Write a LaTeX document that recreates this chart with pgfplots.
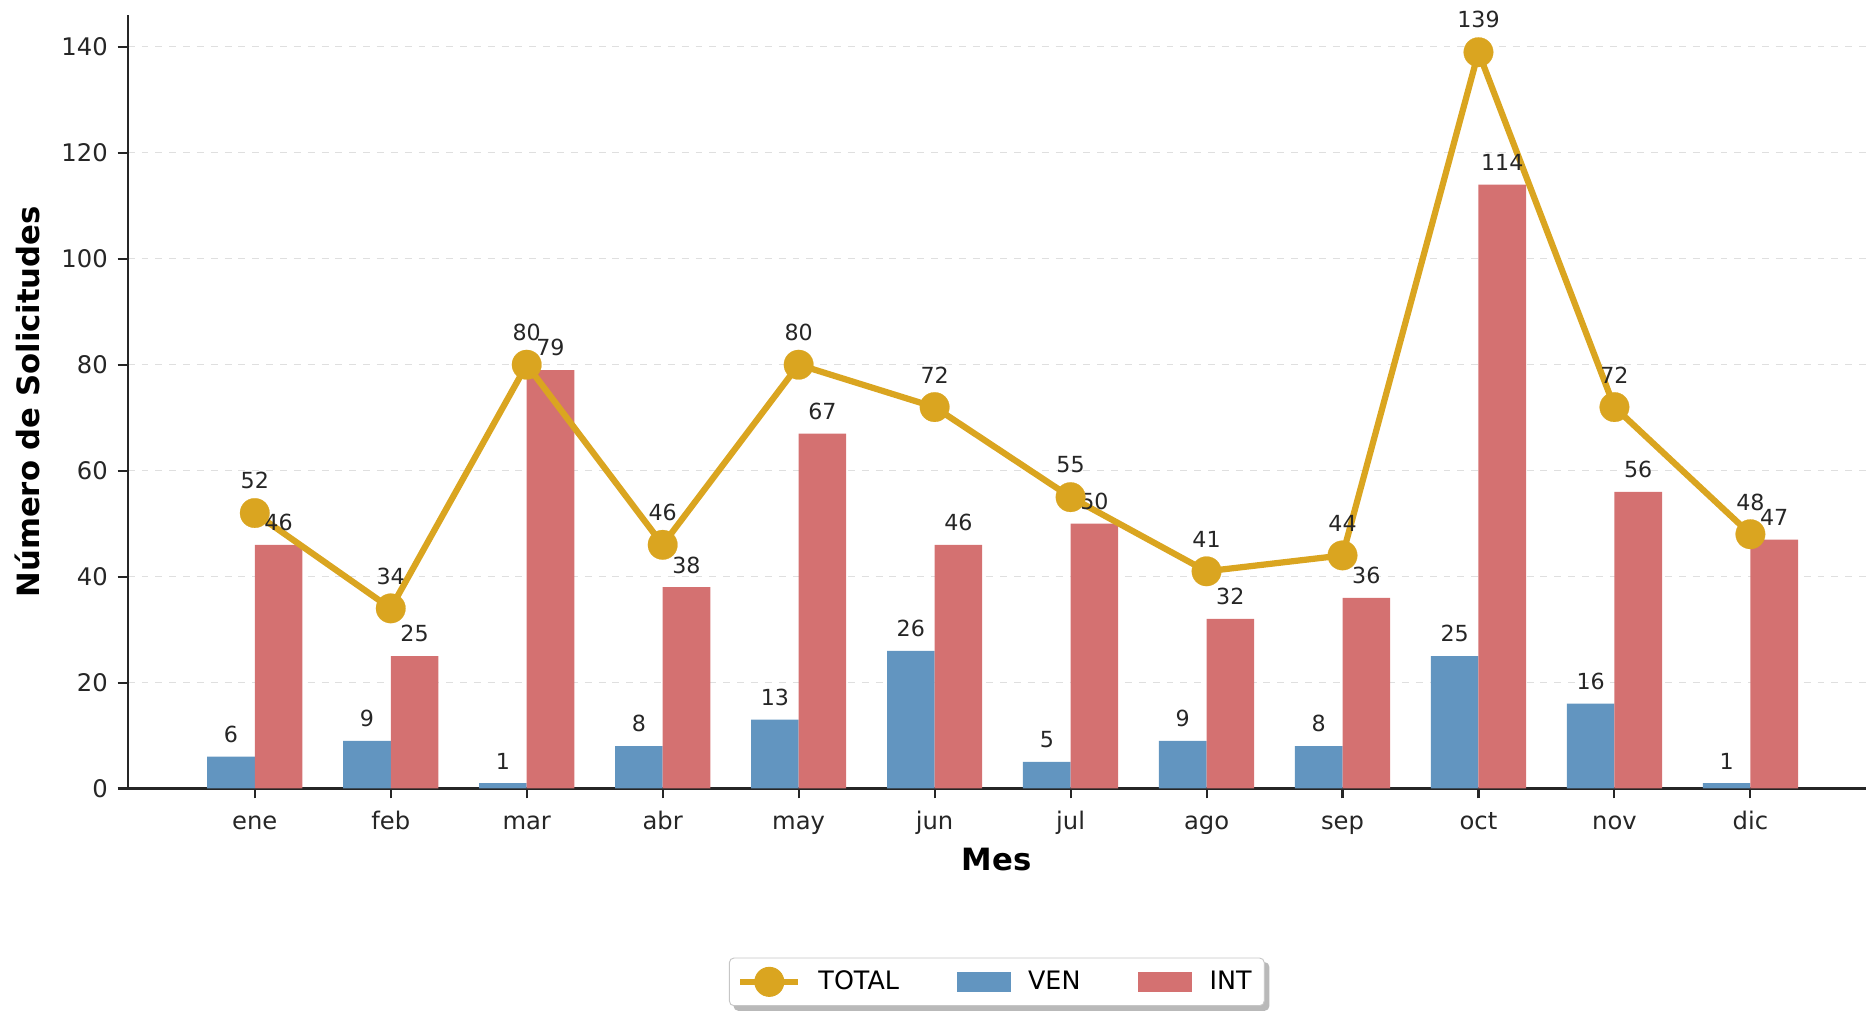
\documentclass[border=0pt]{standalone}
\usepackage{fontspec}
\setmainfont{DejaVu Sans}
\usepackage{pgfplots}
\usepackage{pgfplotstable}
\pgfplotsset{compat=1.18}
\pgfdeclarelayer{background}
\pgfsetlayers{background,main}

\definecolor{ven}{RGB}{98,149,192}
\definecolor{int}{RGB}{212,113,113}
\definecolor{tot}{RGB}{218,165,32}

\pgfplotstableread{
x  ven int total
0  6   46  52
1  9   25  34
2  1   79  80
3  8   38  46
4  13  67  80
5  26  46  72
6  5   50  55
7  9   32  41
8  8   36  44
9  25  114 139
10 16  56  72
11 1   47  48
}\datos

\begin{document}
\begin{tikzpicture}
\begin{axis}[
    scale only axis, width=753pt, height=335pt,
    xmin=-0.935, xmax=11.85, ymin=0, ymax=146,
    axis x line*=bottom, axis y line*=left,
    axis line style={line width=0.9pt, black!85},
    xtick={0,...,11},
    xticklabels={ene,feb,mar,abr,may,jun,jul,ago,sep,oct,nov,dic},
    ytick={0,20,...,140},
    tick align=outside, major tick length=4.3pt,
    tick style={line width=0.9pt, black!85},
    ymajorgrids, grid style={dashed, gray!25, line width=0.5pt},
    ticklabel style={font=\fontsize{10.5}{12}\selectfont, text=black!85},
    xticklabel style={text height=0.76em, text depth=0.24em, yshift=-2.3pt},
    yticklabel style={xshift=-0.8pt},
    /pgf/number format/assume math mode=true,
    xlabel={Mes}, ylabel={Número de Solicitudes},
    label style={font=\fontsize{13.3}{16}\selectfont\bfseries},
    xlabel shift=-1pt, ylabel shift=2.6pt,
    legend style={name=leg, at={(0.5,-0.2186)}, anchor=north, legend columns=3,
        draw=gray!45, rounded corners=2pt, fill=white,
        font=\fontsize{11}{13}\selectfont, inner sep=3.5pt,
        /tikz/every odd column/.append style={column sep=5.5pt},
        /tikz/every even column/.append style={column sep=23pt}},
    nodes near coords style={font=\fontsize{9.6}{11}\selectfont, text=black!85,
        anchor=south, inner sep=0pt},
]
\addlegendimage{legend image code/.code={
    \draw[tot, sharp corners, line width=2.6pt] (0pt,0pt) -- (25pt,0pt);
    \fill[tot] (12.5pt,0pt) circle (6.3pt);}}
\addlegendentry{TOTAL}
\addlegendimage{legend image code/.code={
    \fill[ven, sharp corners] (0pt,-4.1pt) rectangle (23pt,4.1pt);}}
\addlegendentry{VEN}
\addlegendimage{legend image code/.code={
    \fill[int, sharp corners] (0pt,-4.1pt) rectangle (23pt,4.1pt);}}
\addlegendentry{INT}

% barras VEN e INT
\addplot[ybar, bar width=0.35, bar shift=-0.175, fill=ven, draw=none,
    nodes near coords, nodes near coords style={yshift=5.8pt, xshift=-10.3pt},
    forget plot]
    table[x=x, y=ven] {\datos};
\addplot[ybar, bar width=0.35, bar shift=0.175, fill=int, draw=none,
    nodes near coords, nodes near coords style={yshift=5.8pt, xshift=10.3pt},
    forget plot]
    table[x=x, y=int] {\datos};
% linea TOTAL
\addplot[tot, line width=2.7pt, mark=*, mark size=6.4pt,
    mark options={solid, line width=0.1pt, fill=tot},
    nodes near coords, nodes near coords style={yshift=10.3pt}, forget plot]
    table[x=x, y=total] {\datos};
\end{axis}
\begin{pgfonlayer}{background}
  \fill[gray!55, rounded corners=2pt]
    ([shift={(2pt,-2pt)}]leg.south west) rectangle ([shift={(2pt,-2pt)}]leg.north east);
\end{pgfonlayer}
\path ([yshift=5pt]current bounding box.north) ([xshift=-3pt]current bounding box.west);
\end{tikzpicture}
\end{document}
